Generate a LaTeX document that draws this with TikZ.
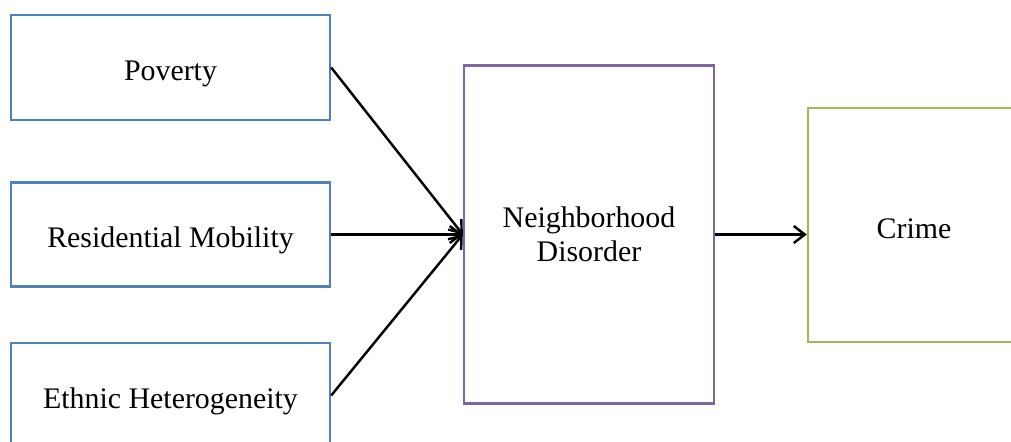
\documentclass[tikz,border=0pt]{standalone}
\usepackage{fontspec}
\setmainfont{Liberation Serif}
\usetikzlibrary{arrows.meta}
\definecolor{boxblue}{RGB}{79,129,189}
\definecolor{boxpurple}{RGB}{128,100,162}
\definecolor{boxgreen}{RGB}{155,187,89}
\begin{document}
\begin{tikzpicture}[x=0.02cm, y=-0.02cm, >={Straight Barb[length=2.2mm,width=3.4mm]},
        factor/.style={draw=#1, line width=1.4pt, inner sep=0pt,
            font=\fontsize{17}{19.5}\selectfont},
        oneline/.style={text height=15pt, text depth=0pt},
        link/.style={->, line width=1.4pt}]
        \useasboundingbox (0,0) rectangle (1011,442);
        \clip (0,0) rectangle (1011,442);
        % causes
        \node[factor=boxblue, oneline, minimum width=6.38cm, minimum height=2.1cm] (pov) at (170.5,67.5) {Poverty};
        \node[factor=boxblue, oneline, minimum width=6.38cm, minimum height=2.08cm] (mob) at (170.5,234.5) {Residential Mobility};
        \node[factor=boxblue, oneline, minimum width=6.38cm, minimum height=2.1cm] (eth) at (170.5,395.5) {Ethnic Heterogeneity};
        % mediator and outcome
        \node[factor=boxpurple, align=center, minimum width=5cm, minimum height=6.76cm] (dis) at (589,234.5) {Neighborhood\\Disorder};
        \node[factor=boxgreen, oneline, minimum width=4.24cm, minimum height=4.68cm] (crime) at (914,225) {Crime};
        \draw[link] (pov.east) -- (dis.west);
        \draw[link] (mob.east) -- (dis.west);
        \draw[link] (eth.east) -- (dis.west);
        \draw[link] (dis.east) -- (dis.east -| crime.west);
    \end{tikzpicture}
\end{document}
